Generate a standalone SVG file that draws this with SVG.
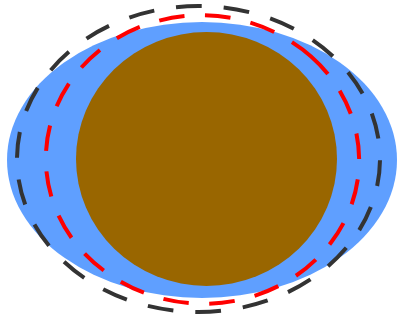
<svg xmlns="http://www.w3.org/2000/svg" width="397" height="320" viewBox="0 0 397 320">
<style>
.outer{fill:none;stroke:#333333;stroke-width:4;stroke-dasharray:27 23;stroke-dashoffset:48.6}
.inner{fill:none;stroke:#ff0000;stroke-width:4;stroke-dasharray:48 20.375 25.5 20.375 25.5 20.375 25.5 20.375 25.5 20.375 25.5 20.375 25.5 20.375 25.5 20.375 25.5 20.375 25.5 20.375 25.5 20.375 25.5 20.375 25.5 20.375 25.5 20.375 25.5 20.375 25.5 20.375 25.5 20.375 25.5 20.375 25.5 20.375 25.5 20.375}
</style>
<rect width="397" height="320" fill="#ffffff"/>
<g id="blue-region"><ellipse cx="202" cy="160" rx="195" ry="138" fill="#5f9fff"/></g>
<g id="brown-core"><ellipse cx="206.5" cy="159" rx="130.5" ry="127" fill="#996600"/></g>
<g id="red-boundary"><path class="inner" pathLength="940" d="M291.94 42.12 A155.5 143.5 0 1 1 113.06 276.88 A155.5 143.5 0 1 1 291.94 42.12 Z"/></g>
<g id="black-boundary"><ellipse class="outer" cx="198.5" cy="159" rx="181.5" ry="153" pathLength="1100"/></g>
</svg>
